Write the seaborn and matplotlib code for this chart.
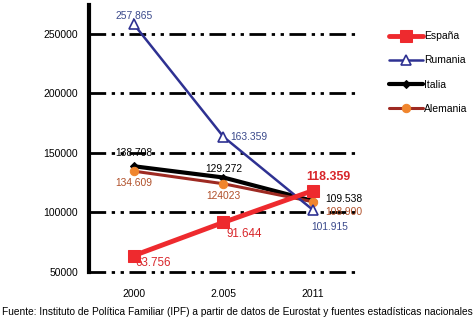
import matplotlib
matplotlib.use("Agg")
import matplotlib.pyplot as plt
import seaborn as sns

# Datos (nacimientos / abortos por país)
years = ["2000", "2.005", "2011"]
espana = [63756, 91644, 118359]
rumania = [257865, 163359, 101915]
italia = [138708, 129272, 109538]
alemania = [134609, 124023, 108900]

espana_labels = ["63.756", "91.644", "118.359"]
rumania_labels = ["257.865", "163.359", "101.915"]
italia_labels = ["138.708", "129.272", "109.538"]
alemania_labels = ["134.609", "124023", "108.900"]

sns.set_theme(style="white")
plt.rcParams["font.family"] = ["Liberation Sans", "DejaVu Sans"]
plt.rcParams["text.color"] = "black"
plt.rcParams["xtick.color"] = "black"
plt.rcParams["ytick.color"] = "black"

fig = plt.figure(figsize=(4.75, 3.21), dpi=100)
ax = fig.add_axes([89 / 475, 49 / 321, 269 / 475, 267 / 321])

pos = list(range(len(years)))

# Series
sns.lineplot(x=pos, y=rumania, ax=ax, color="#2e3192", lw=1.8, marker="^",
             markersize=7, markerfacecolor="white", markeredgecolor="#2e3192",
             markeredgewidth=1.2, label="Rumania", zorder=4)
sns.lineplot(x=pos, y=italia, ax=ax, color="black", lw=3, marker="D",
             markersize=4, markeredgecolor="black", label="Italia", zorder=3)
sns.lineplot(x=pos, y=alemania, ax=ax, color="#9e2a22", lw=2.2, marker="o",
             markersize=6, markerfacecolor="#f0852d", markeredgecolor="#f0852d",
             label="Alemania", zorder=3)
sns.lineplot(x=pos, y=espana, ax=ax, color="#ee2a2e", lw=3.5, marker="s",
             markersize=9, markeredgecolor="#ee2a2e", label="España", zorder=5)

# Etiquetas de valores
fs = 7.4
ax.text(pos[0], rumania[0] + 3000, rumania_labels[0], color="#3b4a8c", fontsize=fs, ha="center", va="bottom")
ax.text(pos[1] + 0.08, rumania[1], rumania_labels[1], color="#3b4a8c", fontsize=fs, ha="left", va="center")
ax.text(pos[2] - 0.02, rumania[2] - 10000, rumania_labels[2], color="#3b4a8c", fontsize=fs, ha="left", va="top")

ax.text(pos[0], 150000, italia_labels[0], color="black", fontsize=fs, ha="center", va="center")
ax.text(pos[1], italia[1] + 3000, italia_labels[1], color="black", fontsize=fs, ha="center", va="bottom")
ax.text(pos[2] + 0.14, italia[2] + 1500, italia_labels[2], color="black", fontsize=fs, ha="left", va="center")

ax.text(pos[0], alemania[0] - 6000, alemania_labels[0], color="#b0502a", fontsize=fs, ha="center", va="top")
ax.text(pos[1], alemania[1] - 6000, alemania_labels[1], color="#b0502a", fontsize=fs, ha="center", va="top")
ax.text(pos[2] + 0.14, 100000, alemania_labels[2], color="#b0502a", fontsize=fs, ha="left", va="center")

ax.text(pos[0] + 0.02, espana[0] - 1500, espana_labels[0], color="#d8262b", fontsize=fs + 1, ha="left", va="top")
ax.text(pos[1] + 0.03, espana[1] - 5000, espana_labels[1], color="#d8262b", fontsize=fs + 1, ha="left", va="top")
ax.text(pos[2] + 0.17, espana[2] + 6000, espana_labels[2], color="#d8262b", fontsize=fs + 1.5,
        fontweight="bold", ha="center", va="bottom")

# Ejes
ax.set_xlim(-0.5, 2.5)
ax.set_ylim(50000, 274000)
ax.set_xticks(pos)
ax.set_xticklabels(years, fontsize=7.5)
ax.set_yticks([50000, 100000, 150000, 200000, 250000])
ax.set_yticklabels(["50000", "100000", "150000", "200000", "250000"], fontsize=7.5)
ax.tick_params(axis="x", length=0, pad=12)
ax.tick_params(axis="y", length=0, pad=8)

for yv in [50000, 100000, 150000, 200000, 250000]:
    ax.axhline(yv, color="black", lw=2, ls=(0, (6, 2, 1.2, 2, 1.2, 2)), zorder=1, clip_on=False)

for side in ["top", "right", "bottom"]:
    ax.spines[side].set_visible(False)
ax.spines["left"].set_color("black")
ax.spines["left"].set_linewidth(3)
ax.grid(False)

# Leyenda
handles, labels = ax.get_legend_handles_labels()
order = ["España", "Rumania", "Italia", "Alemania"]
hmap = dict(zip(labels, handles))
ax.get_legend().remove()
fig.legend([hmap[k] for k in order], order, loc="upper left",
           bbox_to_anchor=(380 / 475, 1 - 22 / 321), frameon=False,
           fontsize=7.5, handlelength=3.2, handletextpad=0.1, labelspacing=1.35)

fig.text(0.005, 9 / 321, "Fuente: Instituto de Política Familiar (IPF) a partir de datos de Eurostat y fuentes estadísticas nacionales",
         fontsize=7.25, ha="left", va="center")

fig.savefig("out.png", dpi=100)
